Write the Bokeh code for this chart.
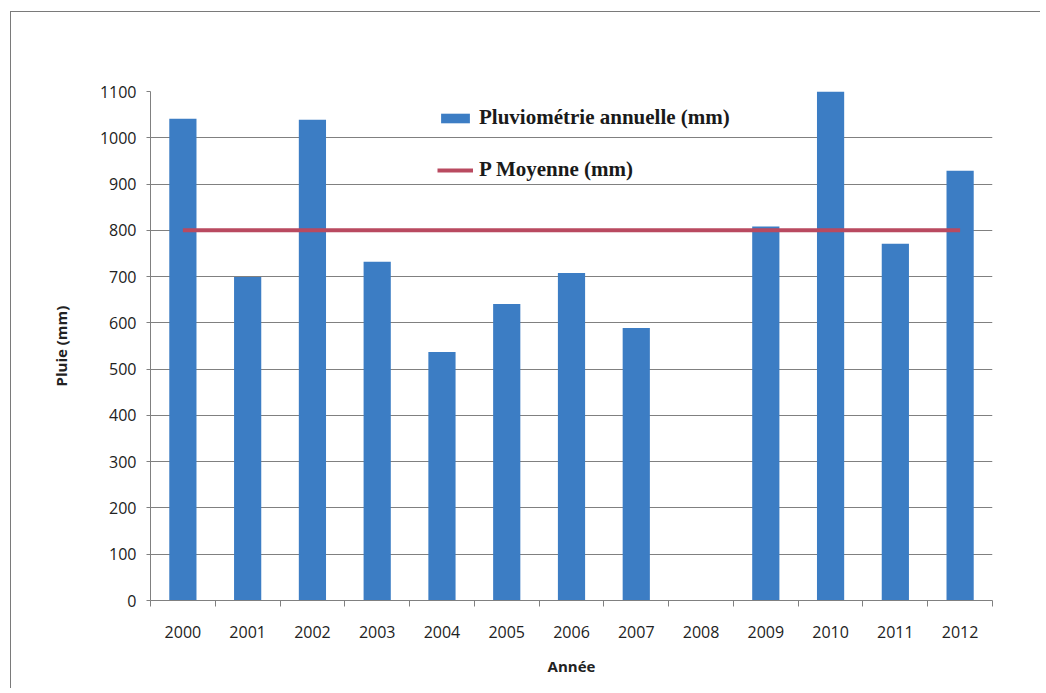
from bokeh.plotting import figure
from bokeh.models import Range1d, FixedTicker, Legend, LegendItem, ColumnDataSource
from bokeh.embed import file_html
from bokeh.resources import INLINE

annees = ["2000", "2001", "2002", "2003", "2004", "2005", "2006",
          "2007", "2008", "2009", "2010", "2011", "2012"]
pluie = [1041, 699, 1039, 732, 537, 641, 708, 589, None, 808, 1100, 771, 929]
moyenne = [800, 800, 800, 800, 800, 800, 800, 800, 800, 800, 800, 800, 800]
y_ticks = [0, 100, 200, 300, 400, 500, 600, 700, 800, 900, 1000, 1100]

idx = list(range(len(annees)))
src = ColumnDataSource(dict(x=idx, pluie=[float("nan") if v is None else v for v in pluie], moy=moyenne))

p = figure(width=1030, height=677,
           x_range=Range1d(-0.5, len(annees) - 0.5), y_range=Range1d(0, 1100),
           output_backend="svg", toolbar_location=None,
           min_border_left=139, min_border_right=49, min_border_top=79, min_border_bottom=89)
p.styles = {"border-top": "1px solid #7a7a7a", "border-left": "1px solid #7a7a7a",
            "margin-left": "10px", "margin-top": "11px"}
p.background_fill_color = "white"
p.border_fill_color = "white"
p.outline_line_color = None

bars = p.vbar(x="x", top="pluie", width=0.42, source=src, fill_color="#3C7DC4", line_color=None)
line = p.line(x="x", y="moy", source=src, line_color="#B94A60", line_width=4)

tick_font = "Open Sans"
p.xaxis.ticker = FixedTicker(ticks=idx, minor_ticks=[i - 0.5 for i in idx] + [idx[-1] + 0.5])
p.xaxis.major_label_overrides = {i: a for i, a in zip(idx, annees)}
p.xaxis.major_tick_out = 0
p.xaxis.major_tick_in = 0
p.xaxis.minor_tick_out = 6
p.xaxis.minor_tick_in = 0
p.xaxis.minor_tick_line_color = "#808080"
p.xaxis.major_label_standoff = 19
p.xaxis.axis_label = "Année"
p.xaxis.axis_label_standoff = 15

p.yaxis.ticker = FixedTicker(ticks=y_ticks)
p.yaxis.major_tick_out = 4
p.yaxis.major_tick_in = 0
p.yaxis.major_label_standoff = 10
p.yaxis.axis_label = "Pluie (mm)"
p.yaxis.axis_label_standoff = 26

for ax in (p.xaxis[0], p.yaxis[0]):
    ax.axis_line_color = "#808080"
    ax.major_tick_line_color = "#808080"
    ax.major_label_text_font = tick_font
    ax.major_label_text_font_size = "16px"
    ax.major_label_text_color = "#222222"
    ax.axis_label_text_font = tick_font
    ax.axis_label_text_font_size = "15px"
    ax.axis_label_text_font_style = "bold"
    ax.axis_label_text_color = "#222222"

p.xgrid.visible = False
p.ygrid.grid_line_color = "#808080"
p.ygrid.grid_line_width = 1

legend = Legend(items=[LegendItem(label="Pluviométrie annuelle (mm)", renderers=[bars]),
                       LegendItem(label="P Moyenne (mm)", renderers=[line])],
                location=(287, 418), padding=0, margin=0, spacing=27,
                glyph_width=36, glyph_height=12, label_standoff=6,
                label_text_font="Liberation Serif", label_text_font_style="bold",
                label_text_font_size="21px", label_text_color="#1a1a1a",
                background_fill_alpha=0, border_line_color=None)
p.add_layout(legend)

open("out.html", "w").write(file_html(p, INLINE))
